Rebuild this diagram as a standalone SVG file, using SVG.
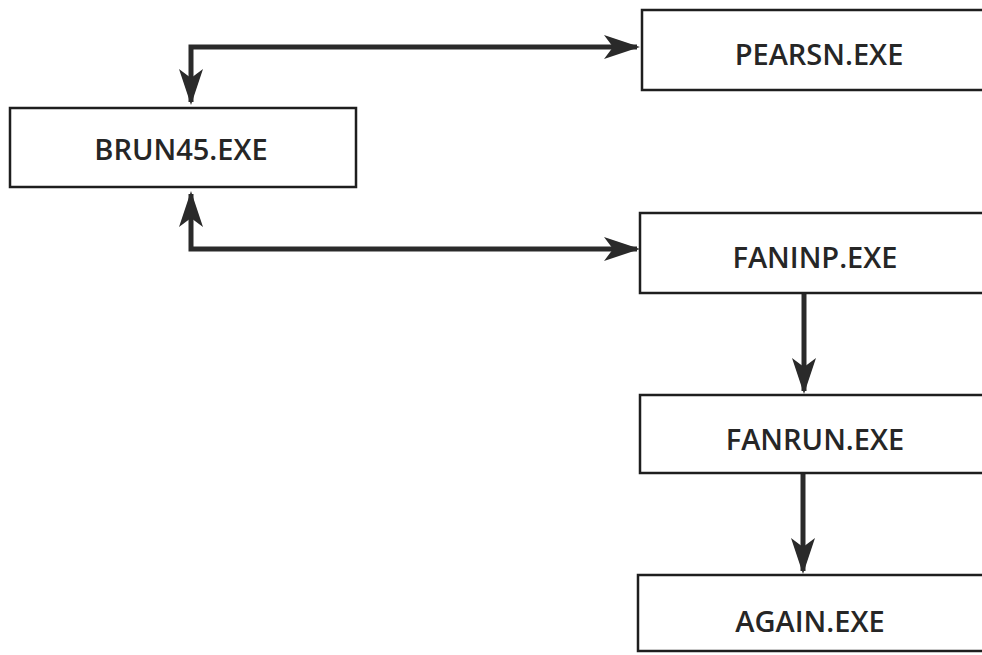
<svg xmlns="http://www.w3.org/2000/svg" width="982" height="655" viewBox="0 0 982 655">
  <style>
    .box rect { fill: #ffffff; stroke: #1e1e1e; stroke-width: 2.5; }
    .box text { font-family: "Open Sans", "Liberation Sans", sans-serif; font-size: 29px; font-weight: 600; fill: #262626; text-anchor: middle; }
    .link { fill: none; stroke: #2a2a2a; stroke-width: 5; stroke-linejoin: miter; }
  </style>
  <defs>
    <!-- barbed, filled arrowhead shared by every connector end -->
    <marker id="head" viewBox="-40 -15 42 30" refX="-3" refY="0" markerWidth="42" markerHeight="30" markerUnits="userSpaceOnUse" orient="auto-start-reverse">
      <path d="M0,0 L-36,-12 L-27,0 L-36,12 Z" fill="#2a2a2a"/>
    </marker>
  </defs>
  <rect width="982" height="655" fill="#ffffff"/>

  <g id="connectors">
    <!-- BRUN45 <-> PEARSN -->
    <path class="link" d="M191,102 L191,47 L637,47" marker-start="url(#head)" marker-end="url(#head)"/>
    <!-- BRUN45 <-> FANINP -->
    <path class="link" d="M191,194 L191,249 L637,249" marker-start="url(#head)" marker-end="url(#head)"/>
    <!-- FANINP -> FANRUN -->
    <path class="link" d="M804,294 L804,391" marker-end="url(#head)"/>
    <!-- FANRUN -> AGAIN -->
    <path class="link" d="M803,474 L803,571" marker-end="url(#head)"/>
  </g>

  <g id="brun45" class="box">
    <rect x="10" y="108" width="346" height="79"/>
    <text x="181" y="160">BRUN45.EXE</text>
  </g>
  <g id="pearsn" class="box">
    <rect x="642" y="10" width="360" height="80"/>
    <text x="819" y="65">PEARSN.EXE</text>
  </g>
  <g id="faninp" class="box">
    <rect x="640" y="213" width="362" height="80"/>
    <text x="815" y="268">FANINP.EXE</text>
  </g>
  <g id="fanrun" class="box">
    <rect x="640" y="395" width="362" height="78"/>
    <text x="815" y="450">FANRUN.EXE</text>
  </g>
  <g id="again" class="box">
    <rect x="638" y="575" width="364" height="76"/>
    <text x="810" y="632">AGAIN.EXE</text>
  </g>
</svg>
